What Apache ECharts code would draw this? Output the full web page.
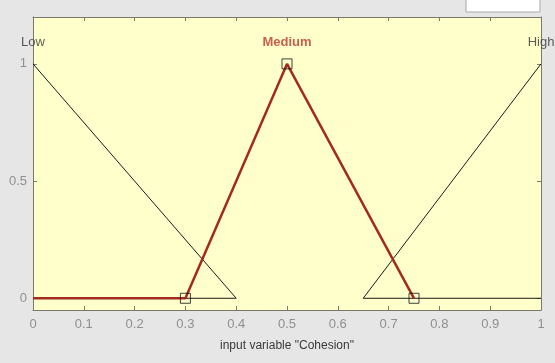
<!DOCTYPE html>
<html>
<head>
<meta charset="utf-8">
<script src="https://cdn.jsdelivr.net/npm/echarts@6/dist/echarts.min.js"></script>
<style>
  html, body { margin: 0; padding: 0; background: #e6e6e6; }
  #chart { width: 555px; height: 363px; }
</style>
</head>
<body>
<div id="chart"></div>
<script>
// Membership functions of the input variable "Cohesion"
const mfNames = ['Low', 'Medium', 'High'];
const lowPoints = [[0, 1], [0.4, 0], [0, 0]];
const mediumPoints = [[0, 0], [0.3, 0], [0.5, 1], [0.75, 0]];
const highPoints = [[1, 1], [0.65, 0], [1, 0]];
const mediumVertices = [[0.3, 0], [0.5, 1], [0.75, 0]];
const peakX = [0, 0.5, 1];
const xTicks = [0, 0.1, 0.2, 0.3, 0.4, 0.5, 0.6, 0.7, 0.8, 0.9, 1];
const yTicks = [0, 0.5, 1];
const axisTitle = 'input variable "Cohesion"';
const selectedMf = 'Medium';

const frame = '#7a7a6c';
const tickText = '#8f8f8f';
const font = '"Liberation Sans", Arial, sans-serif';

const chart = echarts.init(document.getElementById('chart'));

const xAxisBase = {
  type: 'value', min: 0, max: 1, interval: 0.1,
  axisLine: { show: true, onZero: false, lineStyle: { color: frame, width: 1 } },
  axisTick: { show: true, inside: true, length: 4, lineStyle: { color: frame } },
  splitLine: { show: false }
};
const yAxisBase = {
  type: 'value', min: -0.05, max: 1.2,
  axisLine: { show: true, onZero: false, lineStyle: { color: frame, width: 1 } },
  axisTick: { show: true, inside: true, length: 4, customValues: yTicks, lineStyle: { color: frame } },
  splitLine: { show: false }
};
const fmt = v => String(+v.toFixed(1));

chart.setOption({
  backgroundColor: '#e6e6e6',
  animation: false,
  graphic: [{
    type: 'rect',
    shape: { x: 466, y: -1, width: 74, height: 13 },
    style: { fill: '#ffffff', stroke: '#a8a8a8', lineWidth: 1 },
    z: 100
  }],
  grid: {
    left: 33, right: 14, top: 17, bottom: 53,
    show: true, backgroundColor: '#ffffcc', borderWidth: 0
  },
  xAxis: [
    Object.assign({}, xAxisBase, {
      position: 'bottom',
      name: axisTitle, nameLocation: 'middle', nameGap: 30,
      nameTextStyle: { color: '#3a3a3a', fontSize: 12, fontFamily: font },
      axisLabel: {
        show: true, margin: 8, color: tickText, fontSize: 13, fontFamily: font,
        customValues: xTicks, formatter: fmt
      }
    }),
    Object.assign({}, xAxisBase, { position: 'top', axisLabel: { show: false } })
  ],
  yAxis: [
    Object.assign({}, yAxisBase, {
      position: 'left',
      axisLabel: {
        show: true, margin: 6, color: tickText, fontSize: 13, fontFamily: font,
        customValues: yTicks, formatter: fmt
      }
    }),
    Object.assign({}, yAxisBase, { position: 'right', axisLabel: { show: false } })
  ],
  series: [
    {
      name: 'Low', type: 'line', data: lowPoints, symbol: 'none',
      lineStyle: { color: '#1a1a1a', width: 1 }, z: 2
    },
    {
      name: 'High', type: 'line', data: highPoints, symbol: 'none',
      lineStyle: { color: '#1a1a1a', width: 1 }, z: 2
    },
    {
      name: 'Medium', type: 'line', data: mediumPoints, symbol: 'none',
      lineStyle: { color: '#a32a1c', width: 2.5 }, z: 3
    },
    {
      name: 'vertices', type: 'scatter', data: mediumVertices,
      symbol: 'rect', symbolSize: 10,
      itemStyle: { color: 'rgba(0,0,0,0)', borderColor: '#111111', borderWidth: 1 },
      z: 4
    },
    {
      name: 'names', type: 'scatter', symbolSize: 0,
      data: mfNames.map((n, i) => ({
        value: [peakX[i], 1], name: n,
        label: n === selectedMf
          ? { color: '#b8382c', fontWeight: 'bold' }
          : { color: '#333333', fontWeight: 'normal' }
      })),
      label: {
        show: true, position: 'top', distance: 15,
        formatter: p => p.name,
        fontFamily: font, fontSize: 13
      },
      labelLayout: { hideOverlap: false },
      z: 5
    }
  ]
});
</script>
</body>
</html>
